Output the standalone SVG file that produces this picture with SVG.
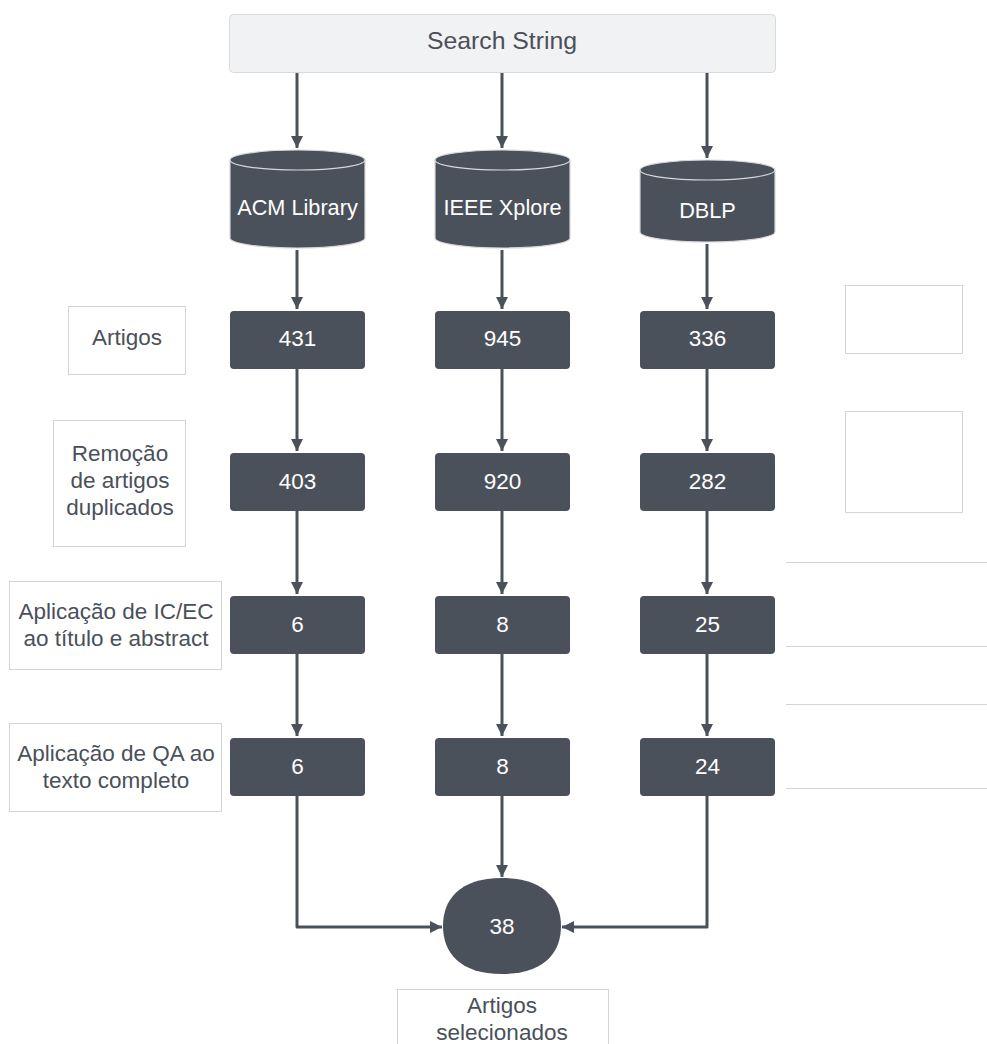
<svg xmlns="http://www.w3.org/2000/svg" width="987" height="1044" viewBox="0 0 987 1044">
<defs>
<style>
.lbl{fill:#fff;stroke:#d3d4d6;stroke-width:1}
.txt{font-family:"Liberation Sans",Arial,sans-serif;font-size:22.5px;fill:#4a505a;text-anchor:middle}
.big{font-size:24.8px}
.wt{font-family:"Liberation Sans",Arial,sans-serif;font-size:22.5px;fill:#ffffff;text-anchor:middle}
.cw{font-size:21.7px}
.box{fill:#4b515b}
.cyl{fill:#4b515b;stroke:#d6d7d9;stroke-width:1.2}
.edge{fill:none;stroke:#4b515b;stroke-width:3;stroke-linejoin:round}
.hl{stroke:#d3d4d6;stroke-width:1.2}
</style>
<marker id="ah" markerWidth="14" markerHeight="14" refX="12" refY="7" orient="auto" markerUnits="userSpaceOnUse">
<path d="M0,1 L12,7 L0,13 Z" fill="#4b515b"/>
</marker>
</defs>
<rect width="987" height="1044" fill="#ffffff"/>

<g id="connectors">
<path class="edge" d="M297,72 V148" marker-end="url(#ah)"/>
<path class="edge" d="M502,72 V148" marker-end="url(#ah)"/>
<path class="edge" d="M707,72 V158" marker-end="url(#ah)"/>
<path class="edge" d="M297,250 V309" marker-end="url(#ah)"/>
<path class="edge" d="M502,250 V309" marker-end="url(#ah)"/>
<path class="edge" d="M707,244 V309" marker-end="url(#ah)"/>
<path class="edge" d="M297,369 V451" marker-end="url(#ah)"/>
<path class="edge" d="M502,369 V451" marker-end="url(#ah)"/>
<path class="edge" d="M707,369 V451" marker-end="url(#ah)"/>
<path class="edge" d="M297,511 V594" marker-end="url(#ah)"/>
<path class="edge" d="M502,511 V594" marker-end="url(#ah)"/>
<path class="edge" d="M707,511 V594" marker-end="url(#ah)"/>
<path class="edge" d="M297,654 V736" marker-end="url(#ah)"/>
<path class="edge" d="M502,654 V736" marker-end="url(#ah)"/>
<path class="edge" d="M707,654 V736" marker-end="url(#ah)"/>
<path class="edge" d="M297,796 V927 H442" marker-end="url(#ah)"/>
<path class="edge" d="M502,796 V877" marker-end="url(#ah)"/>
<path class="edge" d="M707,796 V927 H562" marker-end="url(#ah)"/>
</g>

<g id="search-string">
<rect x="229.5" y="14.5" width="546" height="58" rx="4" fill="#f1f2f4" stroke="#d9dadc" stroke-width="1"/>
<text class="txt big" x="502" y="49">Search String</text>
</g>

<g id="acm-library">
<path class="cyl" d="M230,160 A67.5,10 0 0 1 365,160 V238 A67.5,10 0 0 1 230,238 Z"/>
<path fill="none" stroke="#d6d7d9" stroke-width="1.2" d="M230,160 A67.5,10 0 0 0 365,160"/>
<text class="wt cw" x="297.5" y="215">ACM Library</text>
</g>
<g id="ieee-xplore">
<path class="cyl" d="M435,160 A67.5,10 0 0 1 570,160 V238 A67.5,10 0 0 1 435,238 Z"/>
<path fill="none" stroke="#d6d7d9" stroke-width="1.2" d="M435,160 A67.5,10 0 0 0 570,160"/>
<text class="wt cw" x="502.5" y="215">IEEE Xplore</text>
</g>
<g id="dblp">
<path class="cyl" d="M640,170 A67.5,10 0 0 1 775,170 V232 A67.5,10 0 0 1 640,232 Z"/>
<path fill="none" stroke="#d6d7d9" stroke-width="1.2" d="M640,170 A67.5,10 0 0 0 775,170"/>
<text class="wt cw" x="707.5" y="218">DBLP</text>
</g>

<g id="n431"><rect class="box" x="230" y="311" width="135" height="58" rx="4"/><text class="wt" x="297.5" y="346">431</text></g>
<g id="n945"><rect class="box" x="435" y="311" width="135" height="58" rx="4"/><text class="wt" x="502.5" y="346">945</text></g>
<g id="n336"><rect class="box" x="640" y="311" width="135" height="58" rx="4"/><text class="wt" x="707.5" y="346">336</text></g>

<g id="n403"><rect class="box" x="230" y="453" width="135" height="58" rx="4"/><text class="wt" x="297.5" y="489">403</text></g>
<g id="n920"><rect class="box" x="435" y="453" width="135" height="58" rx="4"/><text class="wt" x="502.5" y="489">920</text></g>
<g id="n282"><rect class="box" x="640" y="453" width="135" height="58" rx="4"/><text class="wt" x="707.5" y="489">282</text></g>

<g id="n6a"><rect class="box" x="230" y="596" width="135" height="58" rx="4"/><text class="wt" x="297.5" y="632">6</text></g>
<g id="n8a"><rect class="box" x="435" y="596" width="135" height="58" rx="4"/><text class="wt" x="502.5" y="632">8</text></g>
<g id="n25"><rect class="box" x="640" y="596" width="135" height="58" rx="4"/><text class="wt" x="707.5" y="632">25</text></g>

<g id="n6b"><rect class="box" x="230" y="738" width="135" height="58" rx="4"/><text class="wt" x="297.5" y="774">6</text></g>
<g id="n8b"><rect class="box" x="435" y="738" width="135" height="58" rx="4"/><text class="wt" x="502.5" y="774">8</text></g>
<g id="n24"><rect class="box" x="640" y="738" width="135" height="58" rx="4"/><text class="wt" x="707.5" y="774">24</text></g>

<g id="n38">
<path class="box" d="M502,878 C545,878 561,900 561,926 C561,952 545,974 502,974 C459,974 443,952 443,926 C443,900 459,878 502,878 Z"/>
<text class="wt" x="502" y="934">38</text>
</g>

<g id="label-artigos">
<rect class="lbl" x="68.5" y="306.5" width="117" height="68"/>
<text class="txt" x="127" y="345">Artigos</text>
</g>
<g id="label-remocao">
<rect class="lbl" x="53.5" y="420.5" width="132" height="126"/>
<text class="txt" x="120" y="461">Remoção</text>
<text class="txt" x="120" y="488">de artigos</text>
<text class="txt" x="120" y="515">duplicados</text>
</g>
<g id="label-icec">
<rect class="lbl" x="9.5" y="581.5" width="212" height="88"/>
<text class="txt" x="116" y="619">Aplicação de IC/EC</text>
<text class="txt" x="116" y="646">ao título e abstract</text>
</g>
<g id="label-qa">
<rect class="lbl" x="9.5" y="723.5" width="212" height="88"/>
<text class="txt" x="116" y="761">Aplicação de QA ao</text>
<text class="txt" x="116" y="788">texto completo</text>
</g>
<g id="label-selecionados">
<rect class="lbl" x="397.5" y="989.5" width="211" height="60"/>
<text class="txt" x="502" y="1013">Artigos</text>
<text class="txt" x="502" y="1040">selecionados</text>
</g>

<g id="right-empty">
<rect class="lbl" x="845.5" y="285.5" width="117" height="68"/>
<rect class="lbl" x="845.5" y="411.5" width="117" height="101"/>
<line class="hl" x1="786" y1="562.5" x2="987" y2="562.5"/>
<line class="hl" x1="786" y1="646.5" x2="987" y2="646.5"/>
<line class="hl" x1="786" y1="704.5" x2="987" y2="704.5"/>
<line class="hl" x1="786" y1="788.5" x2="987" y2="788.5"/>
</g>
</svg>
